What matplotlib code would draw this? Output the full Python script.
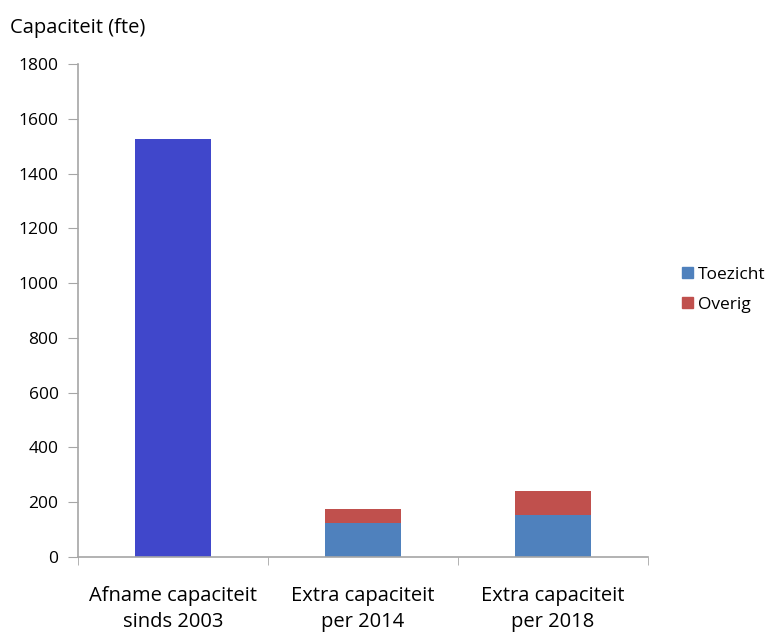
import matplotlib
matplotlib.use('Agg')
import matplotlib.pyplot as plt
from matplotlib.patches import Patch

plt.rcParams['font.family'] = ['Open Sans', 'DejaVu Sans']

# Data
categories = ['Afname capaciteit\nsinds 2003', 'Extra capaciteit\nper 2014', 'Extra capaciteit\nper 2018']
afname = [1525, 0, 0]
toezicht = [0, 125, 152]
overig = [0, 50, 90]
yticks = [0, 200, 400, 600, 800, 1000, 1200, 1400, 1600, 1800]

axis_grey = '#A6A6A6'

fig = plt.figure(figsize=[7.7, 6.35], dpi=100)
ax = fig.add_axes([78/770, 1 - 557/635, 570/770, 493/635])

x = list(range(len(categories)))
w = 0.4
ax.bar(x[0], afname[0], width=w, color='#4047CB')
ax.bar(x[1:], toezicht[1:], width=w, color='#4F81BD')
ax.bar(x[1:], overig[1:], width=w, bottom=toezicht[1:], color='#C0504D')

ax.set_xlim(-0.5, 2.5)
ax.set_ylim(0, 1800)
ax.set_yticks(yticks)
ax.set_yticklabels([str(v) for v in yticks], fontsize=12.5)

# categories labelled in the middle, tick marks between them (Excel style)
ax.set_xticks(x)
ax.set_xticklabels(categories, fontsize=14.5, linespacing=1.4)
ax.tick_params(axis='x', which='major', length=0, pad=21)
ax.set_xticks([-0.5, 0.5, 1.5, 2.5], minor=True)
ax.tick_params(axis='x', which='minor', length=6, direction='out', color=axis_grey)
ax.tick_params(axis='y', length=7, direction='out', color=axis_grey, pad=7)

for side in ['top', 'right']:
    ax.spines[side].set_visible(False)
for side in ['left', 'bottom']:
    ax.spines[side].set_color(axis_grey)
    ax.spines[side].set_linewidth(1.2)

fig.text(10/770, 1 - 28/635, 'Capaciteit (fte)', fontsize=14.5, va='center', ha='left')

handles = [Patch(color='#4F81BD', label='Toezicht'), Patch(color='#C0504D', label='Overig')]
fig.legend(handles=handles, loc='center left', bbox_to_anchor=(677/770, 1 - 290/635),
           frameon=False, fontsize=12.5, handlelength=0.6, handleheight=0.6,
           handletextpad=0.3, labelspacing=0.8, borderaxespad=0, borderpad=0.3)

fig.savefig('out.png', dpi=100)
